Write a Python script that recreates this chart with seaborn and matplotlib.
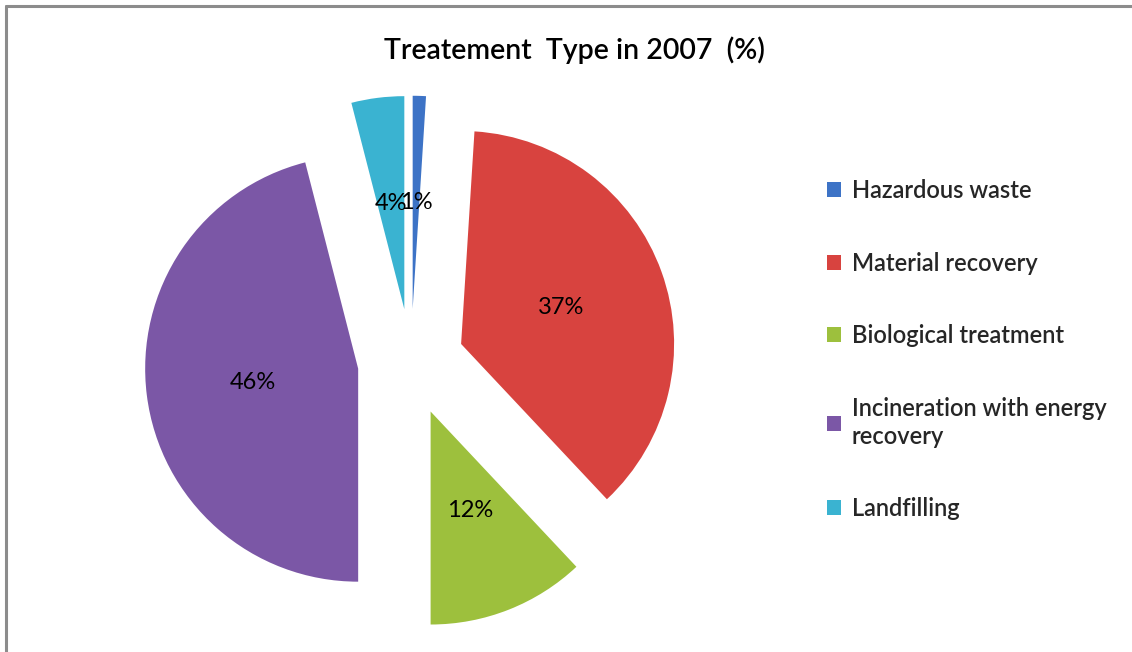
import matplotlib
matplotlib.use("Agg")
import matplotlib.pyplot as plt
import seaborn as sns
from matplotlib.lines import Line2D

# data
categories = ["Hazardous waste", "Material recovery", "Biological treatment",
              "Incineration with energy\nrecovery", "Landfilling"]
shares = [1, 37, 12, 46, 4]
colors = ["#3D73C6", "#D8433F", "#9DC03D", "#7B57A6", "#3AB3D1"]

sns.set_theme(style="white")
plt.rcParams["font.family"] = ["Lato", "DejaVu Sans"]

W, H = 1132, 652
fig = plt.figure(figsize=(W / 100, H / 100), dpi=100)

# pie centre (411, 362) px, radius 213 px
r_px, cx, cy = 213, 411, 362
half = 1.4
ax = fig.add_axes([(cx - half * r_px) / W, (H - cy - half * r_px) / H,
                   2 * half * r_px / W, 2 * half * r_px / H])
wedges, _, autotexts = ax.pie(
    shares, colors=sns.color_palette(colors), startangle=90, counterclock=False,
    explode=[0.25] * len(shares), autopct="%1.0f%%", pctdistance=0.5,
    wedgeprops=dict(linewidth=0), textprops=dict(fontsize=17, color="black"),
)
ax.set_xlim(-half, half)
ax.set_ylim(-half, half)
ax.set_aspect("equal")
ax.axis("off")

fig.text(574 / W, 1 - 50 / H, "Treatement  Type in 2007  (%)", ha="center", va="center",
         fontsize=20.5, fontweight="semibold", color="black")

leg = fig.legend(wedges, categories, loc="upper left",
                 bbox_to_anchor=(827 / W, 1 - 179 / H), bbox_transform=fig.transFigure,
                 frameon=False, fontsize=17, labelspacing=2.1, handlelength=0.6,
                 handleheight=0.6, handletextpad=0.45, borderpad=0, borderaxespad=0)
for t in leg.get_texts():
    t.set_fontweight("semibold")
    t.set_linespacing(1.25)

# grey chart-area border on top and left edges
fig.add_artist(Line2D([6 / W, 6 / W], [0, 1 - 6 / H], transform=fig.transFigure,
                      color="#8C8C8C", linewidth=2.2))
fig.add_artist(Line2D([6 / W, 1], [1 - 6 / H, 1 - 6 / H], transform=fig.transFigure,
                      color="#8C8C8C", linewidth=2.2))

fig.savefig("out.png", dpi=100, facecolor="white")
